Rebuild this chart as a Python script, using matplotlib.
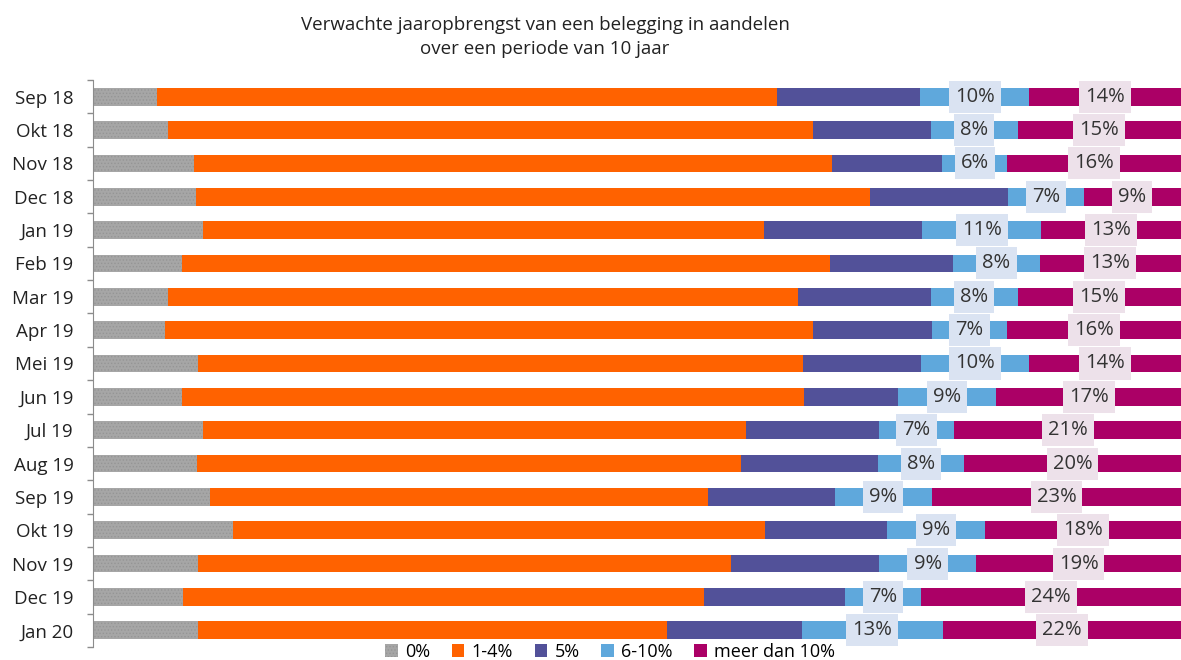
import matplotlib
matplotlib.use("Agg")
import matplotlib.pyplot as plt
import numpy as np


OUT_PATH = "out.png"

MONTHS = [
    "Sep 18", "Okt 18", "Nov 18", "Dec 18", "Jan 19", "Feb 19", "Mar 19",
    "Apr 19", "Mei 19", "Jun 19", "Jul 19", "Aug 19", "Sep 19", "Okt 19",
    "Nov 19", "Dec 19", "Jan 20",
]
SERIES_NAMES = ["0%", "1-4%", "5%", "6-10%", "meer dan 10%"]

# aandeel respondenten per verwachting (%)
zero = [5.9, 6.9, 9.3, 9.5, 10.2, 8.2, 6.9, 6.6, 9.7, 8.2, 10.2, 9.6, 10.8, 12.9, 9.7, 8.3, 9.7]
one_four = [57.1, 59.3, 58.8, 62.4, 52.1, 59.7, 57.9, 59.8, 55.9, 57.2, 50.3, 50.2, 46.0, 48.9, 49.5, 48.1, 43.3]
five = [13.2, 10.8, 10.1, 12.8, 14.7, 11.3, 12.2, 10.9, 10.9, 8.7, 12.3, 12.6, 11.7, 11.2, 13.7, 13.1, 12.5]
six_ten = [10, 8, 6, 7, 11, 8, 8, 7, 10, 9, 7, 8, 9, 9, 9, 7, 13]
over_ten = [14, 15, 16, 9, 13, 13, 15, 16, 14, 17, 21, 20, 23, 18, 19, 24, 22]

COLORS = ["#a6a6a6", "#ff6200", "#525199", "#5fa8dc", "#ab0066"]
LABEL_BOX = {3: "#dae3f2", 4: "#ede1ea"}
FONT = ["Open Sans", "DejaVu Sans"]


def main():
    plt.rcParams["font.family"] = FONT
    plt.rcParams["hatch.linewidth"] = 0.6

    data = np.array([zero, one_four, five, six_ten, over_ten], dtype=float)
    shares = data / data.sum(axis=0) * 100  # 100% gestapeld
    y = np.arange(len(MONTHS))

    fig = plt.figure(figsize=(11.81, 6.6), dpi=100)
    ax = fig.add_axes([93 / 1181, 1 - 647 / 660, 1 - 93 / 1181, 567 / 660])

    left = np.zeros(len(MONTHS))
    for k, name in enumerate(SERIES_NAMES):
        kw = {}
        if k == 0:
            kw = dict(hatch=".....", edgecolor="#959595", linewidth=0)
        ax.barh(y, shares[k], left=left, height=0.53, color=COLORS[k],
                label=name, **kw)
        if k in LABEL_BOX:
            for i in range(len(MONTHS)):
                ax.text(left[i] + shares[k][i] / 2, y[i], f"{data[k][i]:.0f}%",
                        ha="center", va="center", fontsize=14.5, color="#333333",
                        bbox=dict(boxstyle="square,pad=0.3", fc=LABEL_BOX[k], ec="none"),
                        zorder=5 + i)
        left += shares[k]

    ax.set_xlim(0, 100)
    ax.set_ylim(len(MONTHS) - 0.5, -0.5)
    ax.set_yticks(y, labels=MONTHS)
    ax.set_yticks(np.arange(-0.5, len(MONTHS)), minor=True)
    ax.set_xticks([])
    ax.tick_params(axis="y", which="major", length=0, pad=14, labelsize=13.5,
                   labelcolor="#222222")
    ax.tick_params(axis="y", which="minor", length=4, width=1, color="#8c8c8c")
    for side in ["top", "right", "bottom"]:
        ax.spines[side].set_visible(False)
    ax.spines["left"].set_color("#8c8c8c")

    fig.text(545 / 1181, 1 - 37 / 660,
             "Verwachte jaaropbrengst van een belegging in aandelen\nover een periode van 10 jaar",
             ha="center", va="center", fontsize=13.5, color="#222222", linespacing=1.5)

    fig.legend(loc="center", bbox_to_anchor=(610 / 1181, 1 - 652 / 660), ncol=5,
               frameon=False, fontsize=13, handlelength=0.7, handleheight=0.7,
               handletextpad=0.4, columnspacing=1.2, borderpad=0)

    fig.savefig(OUT_PATH, dpi=100)


if __name__ == "__main__":
    main()
